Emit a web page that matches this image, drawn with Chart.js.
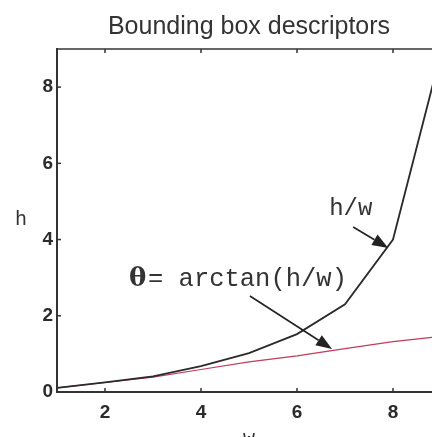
<!DOCTYPE html>
<html>
<head>
<meta charset="utf-8">
<script src="https://cdn.jsdelivr.net/npm/chart.js@4/dist/chart.umd.min.js"></script>
<style>
  html, body { margin: 0; padding: 0; background: #fff; overflow: hidden; width: 432px; height: 437px; }
  #wrap { width: 441px; height: 437px; }
</style>
</head>
<body>
<div id="wrap"><canvas id="c" width="441" height="437"></canvas></div>
<script>
// ---- data ----
const titleText = 'Bounding box descriptors';
const xLabel = 'w';
const yLabel = 'h';
const wValues = [1, 2, 3, 4, 5, 6, 7, 8, 9];
const hOverW = [0.11, 0.25, 0.41, 0.68, 1.02, 1.52, 2.30, 4.00, 8.90];
const thetaValues = [0.11, 0.25, 0.39, 0.59, 0.79, 0.95, 1.14, 1.32, 1.46];
const xTicks = [2, 4, 6, 8];
const yTicks = [0, 2, 4, 6, 8];
const xRange = [1, 9];
const yRange = [0, 9];
// annotation labels and arrows (data coordinates)
const labelHW = { text: 'h/w', x: 6.67, y: 4.80 };
const labelTheta = { sym: 'θ', text: '= arctan(h/w)', x: 2.5, y: 2.97 };
const arrowHW = { from: [7.17, 4.33], to: [7.9, 3.78] };
const arrowTheta = { from: [5.02, 2.52], to: [6.73, 1.13] };

const axisColor = '#333333';
const textColor = '#2b2b2b';

function arrow(ctx, x0, y0, x1, y1) {
  const ang = Math.atan2(y1 - y0, x1 - x0);
  const L = 16, W = 6;
  const bx = x1 - L * Math.cos(ang), by = y1 - L * Math.sin(ang);
  ctx.beginPath();
  ctx.moveTo(x0, y0);
  ctx.lineTo(bx, by);
  ctx.stroke();
  ctx.beginPath();
  ctx.moveTo(x1, y1);
  ctx.lineTo(bx + W * Math.sin(ang), by - W * Math.cos(ang));
  ctx.lineTo(bx - W * Math.sin(ang), by + W * Math.cos(ang));
  ctx.closePath();
  ctx.fill();
}

const decor = {
  id: 'decor',
  afterDraw(chart) {
    const { ctx, chartArea: a, scales } = chart;
    const xs = scales.x, ys = scales.y;
    ctx.save();
    // title centered over the axes
    ctx.fillStyle = '#333';
    ctx.font = '25px "Liberation Sans", Arial, sans-serif';
    ctx.textAlign = 'center';
    ctx.textBaseline = 'alphabetic';
    ctx.fillText(titleText, (a.left + a.right) / 2, 34);
    // top border
    ctx.strokeStyle = axisColor;
    ctx.lineWidth = 1.5;
    ctx.beginPath();
    ctx.moveTo(a.left, a.top);
    ctx.lineTo(a.right, a.top);
    ctx.stroke();
    // inward ticks
    xTicks.forEach(v => {
      const px = xs.getPixelForValue(v);
      ctx.beginPath();
      ctx.moveTo(px, a.bottom); ctx.lineTo(px, a.bottom - 4);
      ctx.moveTo(px, a.top); ctx.lineTo(px, a.top + 4);
      ctx.stroke();
    });
    yTicks.forEach(v => {
      const py = ys.getPixelForValue(v);
      ctx.beginPath();
      ctx.moveTo(a.left, py); ctx.lineTo(a.left + 4, py);
      ctx.stroke();
    });
    // axis labels
    ctx.fillStyle = '#333';
    ctx.font = '20px "Liberation Mono", "Courier New", monospace';
    ctx.textAlign = 'center';
    ctx.textBaseline = 'middle';
    ctx.fillText(yLabel, 21, 220);
    ctx.textBaseline = 'top';
    ctx.fillText(xLabel, (a.left + a.right) / 2, 429);
    // annotations
    ctx.font = '24px "Liberation Mono", "Courier New", monospace';
    ctx.textAlign = 'left';
    ctx.textBaseline = 'middle';
    ctx.fillText(labelHW.text, xs.getPixelForValue(labelHW.x), ys.getPixelForValue(labelHW.y));
    const tx = xs.getPixelForValue(labelTheta.x), ty = ys.getPixelForValue(labelTheta.y);
    ctx.font = 'bold 26px "DejaVu Serif", "Liberation Serif", serif';
    ctx.fillText(labelTheta.sym, tx, ty);
    ctx.font = '25.5px "Liberation Mono", "Courier New", monospace';
    ctx.fillText(labelTheta.text, tx + 19, ty);
    // arrows
    ctx.strokeStyle = '#222';
    ctx.fillStyle = '#222';
    ctx.lineWidth = 1.6;
    [arrowHW, arrowTheta].forEach(ar => {
      arrow(ctx,
        xs.getPixelForValue(ar.from[0]), ys.getPixelForValue(ar.from[1]),
        xs.getPixelForValue(ar.to[0]), ys.getPixelForValue(ar.to[1]));
    });
    ctx.restore();
  }
};

new Chart(document.getElementById('c'), {
  type: 'line',
  data: {
    datasets: [
      {
        label: 'h/w',
        data: wValues.map((w, i) => ({ x: w, y: hOverW[i] })),
        borderColor: '#2a2a2a',
        borderWidth: 1.8,
        pointRadius: 0,
        tension: 0,
        fill: false
      },
      {
        label: 'theta',
        data: wValues.map((w, i) => ({ x: w, y: thetaValues[i] })),
        borderColor: '#c23a5c',
        borderWidth: 1.2,
        pointRadius: 0,
        tension: 0,
        fill: false
      }
    ]
  },
  options: {
    responsive: false,
    devicePixelRatio: 1,
    animation: false,
    layout: { padding: { top: 49, right: 0, left: 0, bottom: 0 } },
    plugins: { legend: { display: false }, tooltip: { enabled: false }, title: { display: false } },
    scales: {
      x: {
        type: 'linear',
        min: xRange[0], max: xRange[1],
        afterBuildTicks: s => { s.ticks = xTicks.map(v => ({ value: v })); },
        afterFit: s => { s.height = 45; },
        grid: { display: false, drawTicks: false },
        border: { display: true, color: axisColor, width: 2 },
        ticks: {
          padding: 9,
          color: textColor,
          font: { family: '"Liberation Sans", Arial, sans-serif', size: 19, weight: 'bold' },
          maxRotation: 0
        }
      },
      y: {
        type: 'linear',
        min: yRange[0], max: yRange[1],
        afterBuildTicks: s => { s.ticks = yTicks.map(v => ({ value: v })); },
        afterFit: s => { s.width = 57; },
        grid: { display: false, drawTicks: false },
        border: { display: true, color: axisColor, width: 2 },
        ticks: {
          padding: 4,
          color: textColor,
          font: { family: '"Liberation Sans", Arial, sans-serif', size: 19, weight: 'bold' }
        }
      }
    }
  },
  plugins: [decor]
});
</script>
</body>
</html>
